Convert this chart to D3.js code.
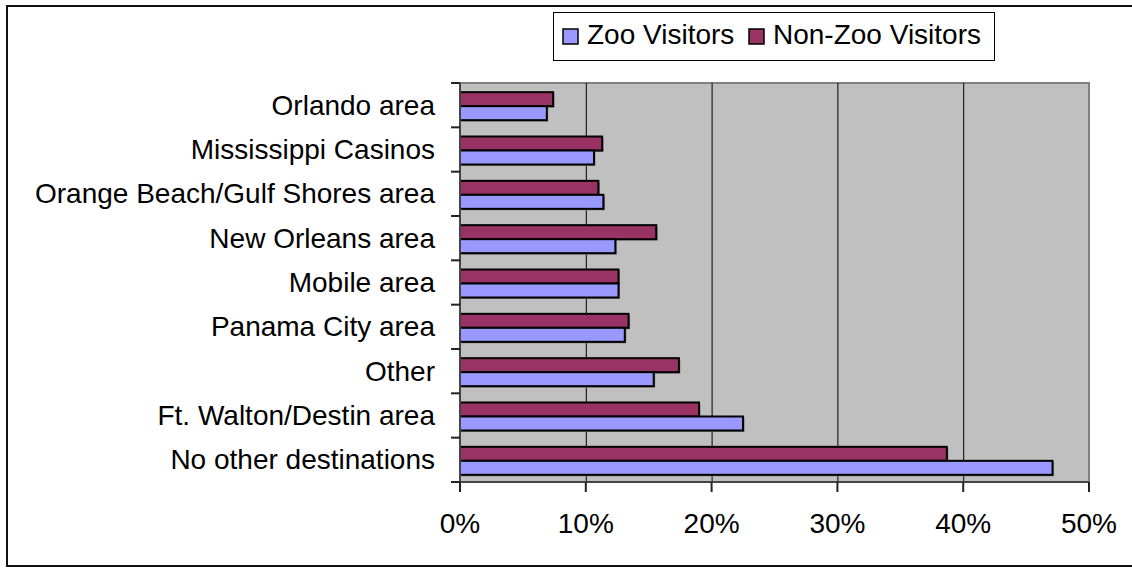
<!DOCTYPE html>
<html>
<head>
<meta charset="utf-8">
<script src="https://cdn.jsdelivr.net/npm/d3@7"></script>
<style>
  body { margin: 0; background: #fff; }
  svg { display: block; font-family: "Liberation Sans", Arial, sans-serif; }
</style>
</head>
<body>
<svg id="chart" width="1132" height="569"></svg>
<script>
// categories top to bottom
const categories = ["Orlando area", "Mississippi Casinos", "Orange Beach/Gulf Shores area",
  "New Orleans area", "Mobile area", "Panama City area", "Other",
  "Ft. Walton/Destin area", "No other destinations"];
// percentages
const zooVisitors = [6.9, 10.65, 11.4, 12.35, 12.6, 13.1, 15.4, 22.5, 47.1];
const nonZooVisitors = [7.4, 11.3, 11.0, 15.6, 12.6, 13.4, 17.4, 19.0, 38.7];
const xTicks = [0, 10, 20, 30, 40, 50];
const seriesNames = ["Zoo Visitors", "Non-Zoo Visitors"];
const seriesColors = ["#9999FF", "#993366"];

const svg = d3.select("#chart");
const plot = { left: 460, right: 1089, top: 83, bottom: 482 };
const fontSize = 28;

// outer frame (right edge runs off the picture)
svg.append("rect")
  .attr("x", 7).attr("y", 6)
  .attr("width", 1140).attr("height", 560)
  .attr("fill", "none").attr("stroke", "#111").attr("stroke-width", 2);

const x = d3.scaleLinear().domain([0, 50]).range([plot.left, plot.right]);
const y = d3.scaleBand().domain(categories).range([plot.top, plot.bottom]);

// plot area
svg.append("rect")
  .attr("x", plot.left).attr("y", plot.top)
  .attr("width", plot.right - plot.left).attr("height", plot.bottom - plot.top)
  .attr("fill", "#C0C0C0").attr("stroke", "#808080").attr("stroke-width", 2);

// gridlines
svg.append("g").selectAll("line")
  .data(xTicks.filter(d => d > 0 && d < 50))
  .join("line")
  .attr("x1", d => x(d) + 0.5).attr("x2", d => x(d) + 0.5)
  .attr("y1", plot.top).attr("y2", plot.bottom)
  .attr("stroke", "#000").attr("stroke-width", 1);

// bars
const barH = 14;
const rows = categories.map((c, i) => ({ c, zoo: zooVisitors[i], non: nonZooVisitors[i] }));
const mid = d => y(d.c) + y.bandwidth() / 2 + 1;

const g = svg.append("g");
// soft shadows
g.selectAll(".shNon").data(rows).join("rect")
  .attr("x", x(0) + 1.5).attr("y", d => mid(d) - barH + 1.5)
  .attr("width", d => x(d.non) - x(0)).attr("height", barH)
  .attr("fill", "#808080");
g.selectAll(".shZoo").data(rows).join("rect")
  .attr("x", x(0) + 1.5).attr("y", d => mid(d) + 1.5)
  .attr("width", d => x(d.zoo) - x(0)).attr("height", barH)
  .attr("fill", "#808080");

g.selectAll(".non").data(rows).join("rect")
  .attr("x", x(0)).attr("y", d => mid(d) - barH)
  .attr("width", d => x(d.non) - x(0)).attr("height", barH)
  .attr("fill", seriesColors[1]).attr("stroke", "#000").attr("stroke-width", 2);
g.selectAll(".zoo").data(rows).join("rect")
  .attr("x", x(0)).attr("y", d => mid(d))
  .attr("width", d => x(d.zoo) - x(0)).attr("height", barH)
  .attr("fill", seriesColors[0]).attr("stroke", "#000").attr("stroke-width", 2);

// axes lines
svg.append("line")
  .attr("x1", plot.left).attr("x2", plot.left)
  .attr("y1", plot.top).attr("y2", plot.bottom)
  .attr("stroke", "#444").attr("stroke-width", 2);
svg.append("line")
  .attr("x1", plot.left).attr("x2", plot.right)
  .attr("y1", plot.bottom).attr("y2", plot.bottom)
  .attr("stroke", "#444").attr("stroke-width", 2);

// y ticks at band boundaries
const bounds = categories.map(c => y(c)).concat([plot.bottom]);
svg.append("g").selectAll("line").data(bounds).join("line")
  .attr("x1", plot.left - 9).attr("x2", plot.left)
  .attr("y1", d => d).attr("y2", d => d)
  .attr("stroke", "#222").attr("stroke-width", 2);

// category labels
svg.append("g").selectAll("text").data(categories).join("text")
  .attr("x", 435).attr("y", d => y(d) + y.bandwidth() / 2 + 2)
  .attr("text-anchor", "end").attr("dominant-baseline", "middle")
  .attr("font-size", fontSize).attr("fill", "#000")
  .text(d => d);

// x ticks and labels
const xg = svg.append("g");
xg.selectAll("line").data(xTicks).join("line")
  .attr("x1", d => x(d)).attr("x2", d => x(d))
  .attr("y1", plot.bottom).attr("y2", plot.bottom + 10)
  .attr("stroke", "#222").attr("stroke-width", 2);
xg.selectAll("text").data(xTicks).join("text")
  .attr("x", d => x(d)).attr("y", 526)
  .attr("text-anchor", "middle").attr("dominant-baseline", "middle")
  .attr("font-size", fontSize).attr("fill", "#000")
  .text(d => d + "%");

// legend
const legend = svg.append("g");
legend.append("rect")
  .attr("x", 553.5).attr("y", 12.5).attr("width", 441).attr("height", 48)
  .attr("fill", "#fff").attr("stroke", "#000").attr("stroke-width", 1);
const legX = [563, 749];
seriesNames.forEach((name, i) => {
  legend.append("rect")
    .attr("x", legX[i]).attr("y", 29).attr("width", 15).attr("height", 15)
    .attr("fill", seriesColors[i]).attr("stroke", "#000").attr("stroke-width", 1.5);
  legend.append("text")
    .attr("x", legX[i] + 24).attr("y", 37)
    .attr("dominant-baseline", "middle")
    .attr("font-size", fontSize).attr("fill", "#000")
    .text(name);
});
</script>
</body>
</html>
